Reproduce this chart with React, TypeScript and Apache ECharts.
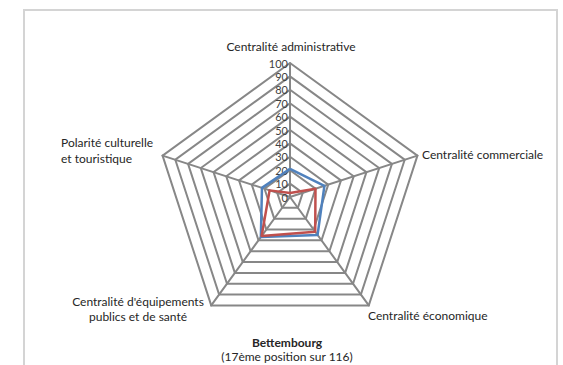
import React, { useEffect, useRef } from "react";
import * as echarts from "echarts";

// Indicators, counter-clockwise from the top
const indicatorNames = [
  "Centralité administrative",
  "Polarité culturelle\net touristique",
  "Centralité d'équipements\npublics et de santé",
  "Centralité économique",
  "Centralité commerciale",
];
const maxValue = 100;
const blueValues = [21, 22, 37, 35, 27];
const redValues = [3, 16, 36, 32, 20];
const titleText = "Bettembourg";
const subtitleText = "(17ème position sur 116)";

const FONT = "Lato";
const TEXT = "#262626";

export default function App() {
  const ref = useRef<HTMLDivElement>(null);
  useEffect(() => {
    if (!ref.current) return;
    const chart = echarts.init(ref.current, undefined, { renderer: "svg" });
    const gridColor = "#878787";
    const nameStyle = (extra: any) => ({
      font: `12px ${FONT}`,
      fill: TEXT,
      textVerticalAlign: "middle",
      ...extra,
    });
    chart.setOption({
      animation: false,
      backgroundColor: "#ffffff",
      title: {
        text: titleText,
        subtext: subtitleText,
        left: 282,
        textAlign: "center",
        top: 331,
        itemGap: 2,
        textStyle: { fontFamily: FONT, fontSize: 12, lineHeight: 12, fontWeight: "bold", color: TEXT },
        subtextStyle: { fontFamily: FONT, fontSize: 12, lineHeight: 12, color: TEXT },
      },
      radar: {
        center: [290, 197],
        radius: 134,
        startAngle: 90,
        shape: "polygon",
        splitNumber: 10,
        axisName: { show: false },
        indicator: indicatorNames.map((n, i) => ({
          name: n,
          min: 0,
          max: maxValue,
          axisLabel:
            i === 0
              ? { show: true, fontFamily: FONT, fontSize: 11, lineHeight: 11, color: "#404040", margin: 2 }
              : { show: false },
        })),
        axisLabel: { show: false },
        axisLine: { lineStyle: { color: gridColor, width: 2 } },
        splitLine: { lineStyle: { color: gridColor, width: 2 } },
        splitArea: { show: false },
      },
      graphic: [
        {
          type: "rect",
          shape: { x: 24, y: 10, width: 533, height: 370 },
          style: { fill: "none", stroke: "#d4d4d4", lineWidth: 2 },
          silent: true,
        },
        {
          type: "text",
          x: 291,
          y: 46,
          style: nameStyle({ text: indicatorNames[0], textAlign: "center" }),
        },
        {
          type: "text",
          x: 422,
          y: 154,
          style: nameStyle({ text: indicatorNames[4], textAlign: "left" }),
        },
        {
          type: "text",
          x: 368,
          y: 315,
          style: nameStyle({ text: indicatorNames[3], textAlign: "left" }),
        },
        {
          type: "text",
          x: 138,
          y: 309,
          style: nameStyle({ text: indicatorNames[2], textAlign: "center", lineHeight: 15 }),
        },
        {
          type: "text",
          x: 61,
          y: 150,
          style: nameStyle({ text: indicatorNames[1], textAlign: "left", lineHeight: 16 }),
        },
      ],
      series: [
        {
          type: "radar",
          symbol: "none",
          silent: true,
          data: [
            {
              value: blueValues,
              name: "Blue",
              lineStyle: { color: "#4F81BD", width: 2.5 },
              itemStyle: { color: "#4F81BD" },
            },
            {
              value: redValues,
              name: "Red",
              lineStyle: { color: "#C0504D", width: 2.5 },
              itemStyle: { color: "#C0504D" },
            },
          ],
        },
      ],
    });
    return () => chart.dispose();
  }, []);
  return (
    <div
      ref={ref}
      style={{ position: "fixed", left: 0, top: 0, width: 563, height: 365 }}
    />
  );
}
